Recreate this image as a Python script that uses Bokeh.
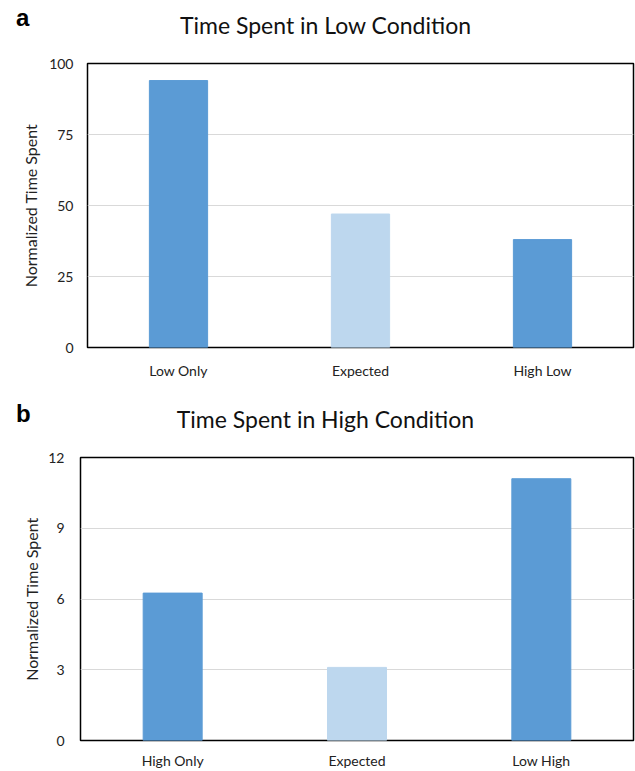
from bokeh.plotting import figure
from bokeh.models import ColumnDataSource, FactorRange, Range1d, FixedTicker, Div
from bokeh.layouts import column
from bokeh.embed import file_html
from bokeh.resources import INLINE

low_categories = ["Low Only", "Expected", "High Low"]
low_values = [94, 47, 38]
low_ticks = [0, 25, 50, 75, 100]

high_categories = ["High Only", "Expected", "Low High"]
high_values = [6.25, 3.1, 11.1]
high_ticks = [0, 3, 6, 9, 12]

bar_colors = ["#5B9BD5", "#BDD7EE", "#5B9BD5"]

FONT = "Lato"
W = 635


def header(letter, title, letter_top, title_top, height):
    html = (
        f'<div style="position:relative;width:{W}px;height:{height}px;">'
        f'<span style="position:absolute;left:16px;top:{letter_top}px;'
        f'font-family:\'Liberation Sans\';font-weight:bold;font-size:24px;line-height:24px;color:#000;">{letter}</span>'
        f'<span style="position:absolute;left:0px;width:651px;text-align:center;top:{title_top}px;'
        f'font-family:Lato;font-size:23px;line-height:23px;color:#111;white-space:nowrap;">{title}</span>'
        f'</div>'
    )
    return Div(text=html, width=W, height=height, margin=0)


def make_panel(cats, vals, ticks, height, left, top, bottom, tick_standoff,
               label_standoff, x_standoff):
    src = ColumnDataSource(dict(cat=cats, val=vals, color=bar_colors))
    p = figure(x_range=FactorRange(*cats, range_padding=0),
               y_range=Range1d(ticks[0], ticks[-1]),
               width=W, height=height, output_backend="svg",
               toolbar_location=None, tools="")
    p.min_border_left = left
    p.min_border_right = 2
    p.min_border_top = top
    p.min_border_bottom = bottom
    p.vbar(x="cat", top="val", width=0.32, color="color", source=src)
    p.outline_line_color = "black"
    p.outline_line_width = 1.5
    p.xgrid.grid_line_color = None
    p.ygrid.grid_line_color = "#D9D9D9"
    p.ygrid.grid_line_width = 1.2
    p.yaxis.ticker = FixedTicker(ticks=ticks)
    for ax in (p.xaxis, p.yaxis):
        ax.axis_line_color = None
        ax.major_tick_line_color = None
        ax.minor_tick_line_color = None
        ax.major_label_text_font = FONT
        ax.major_label_text_font_size = "14px"
        ax.major_label_text_color = "#222222"
    p.xaxis.major_label_standoff = x_standoff
    p.yaxis.major_label_standoff = tick_standoff
    p.yaxis.axis_label = "Normalized Time Spent"
    p.yaxis.axis_label_text_font = FONT
    p.yaxis.axis_label_text_font_style = "normal"
    p.yaxis.axis_label_text_font_size = "16px"
    p.yaxis.axis_label_text_color = "#222222"
    p.yaxis.axis_label_standoff = label_standoff
    return p


ha = header("a", "Time Spent in Low Condition", 6, 14, 50)
pa = make_panel(low_categories, low_values, low_ticks, 345, 87, 13, 48, 8, 6, 8)
hb = header("b", "Time Spent in High Condition", 7, 13, 50)
pb = make_panel(high_categories, high_values, high_ticks, 326, 80, 12, 30, 10, 4, 5)

layout = column(column(ha, pa, spacing=0), column(hb, pb, spacing=0), spacing=0)
open("out.html", "w").write(file_html(layout, INLINE))
